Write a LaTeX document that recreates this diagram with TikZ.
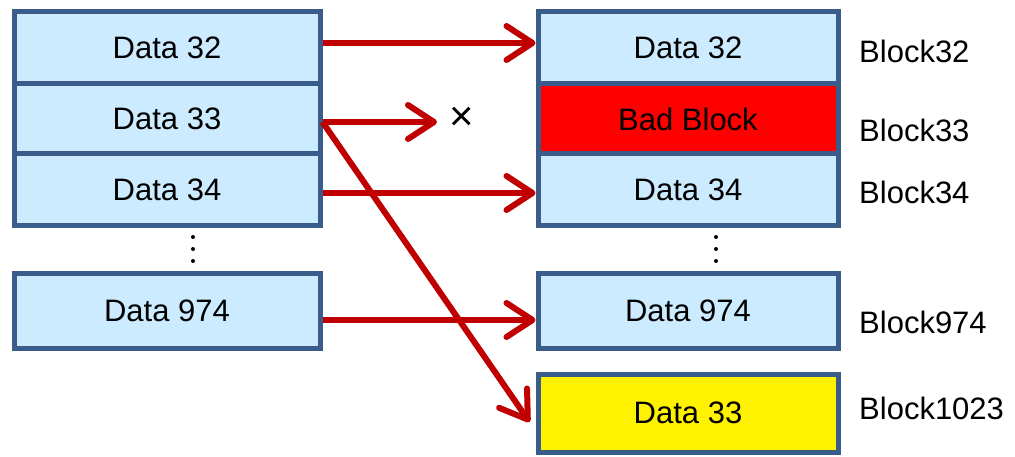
\documentclass[tikz,border=0pt]{standalone}
\usepackage{fontspec}
\setmainfont{Liberation Sans}
\usepackage{tikz}
\usetikzlibrary{arrows.meta}

\definecolor{cellblue}{RGB}{204,235,255}
\definecolor{edgeblue}{RGB}{58,92,138}
\definecolor{arrowred}{RGB}{192,0,0}

\begin{document}
\begin{tikzpicture}
        [
            x=1pt, y=-1pt,
            every node/.style={font=\fontsize{31}{36}\selectfont},
            cell/.style={draw=edgeblue, fill=cellblue, line width=5pt, minimum height=72pt},
            leftcell/.style={cell, minimum width=306pt},
            rightcell/.style={cell, minimum width=300pt},
            blocklabel/.style={anchor=west, inner sep=0pt},
            remap/.style={draw=arrowred, line width=6pt,
                -{Straight Barb[length=26pt,width=34pt,round]}},
        ]
        \useasboundingbox (0,0) rectangle (1015,457);

        % data in the file system
        \node[leftcell] (d32) at (167,48) {Data 32};
        \node[leftcell, minimum height=70pt] (d33) at (167,119) {Data 33};
        \node[leftcell] (d34) at (167,190) {Data 34};
        \node[leftcell, minimum height=74pt] (d974) at (167,311) {Data 974};

        % blocks on the device
        \node[rightcell] (b32) at (688,48) {Data 32};
        \node[rightcell, minimum height=70pt, fill=red] (b33) at (688,119) {Bad Block};
        \node[rightcell] (b34) at (688,190) {Data 34};
        \node[rightcell, minimum height=74pt] (b974) at (688,311) {Data 974};
        \node[rightcell, minimum height=78pt, fill=yellow] (b1023) at (688,413) {Data 33};

        \foreach \dy in {237,249,261} {
            \fill (193,\dy) circle (2pt);
            \fill (716,\dy) circle (2pt);
        }

        \node[blocklabel] (l32) at (859,51) {Block32};
        \node[blocklabel] (l33) at (859,130) {Block33};
        \node[blocklabel] (l34) at (859,192) {Block34};
        \node[blocklabel] (l974) at (859,322) {Block974};
        \node[blocklabel] (l1023) at (859,408) {Block1023};

        \coordinate (lost) at (437,122);
        \node[inner sep=0pt, font=\fontsize{42}{46}\selectfont] (fail) at (462,119) {×};

        \draw[remap] ([yshift=5pt]d32.east) -- ([yshift=5pt]b32.west);
        \draw[remap] ([yshift=-3pt]d33.east) -- (lost);
        \draw[remap] ([yshift=-3pt]d33.east) -- ([xshift=-6pt,yshift=-9pt]b1023.west);
        \draw[remap] ([yshift=-3pt]d34.east) -- ([yshift=-3pt]b34.west);
        \draw[remap] ([yshift=-9pt]d974.east) -- ([yshift=-9pt]b974.west);
    \end{tikzpicture}
\end{document}
